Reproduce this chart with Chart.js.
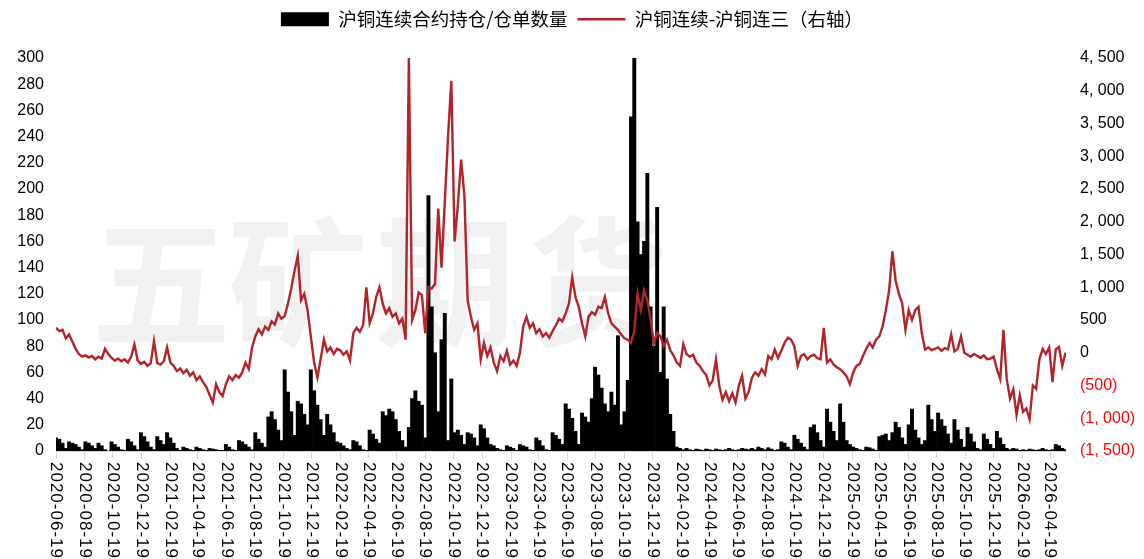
<!DOCTYPE html>
<html><head><meta charset="utf-8">
<script src="https://cdn.jsdelivr.net/npm/chart.js@4.4.1/dist/chart.umd.min.js"></script>
<style>html,body{margin:0;padding:0;background:#fff;overflow:hidden}#wrap{width:1144px;height:559px;position:relative}</style>
</head><body><div id="wrap"><canvas id="c"></canvas></div>
<script>
const startDate = '2020-06-19';
const stepDays = 7;
const xMaxDays = 2164;
const barLabel = '沪铜连续合约持仓/仓单数量';
const lineLabel = '沪铜连续-沪铜连三（右轴）';
const watermark = '五矿期货';
const tickLabels = ['2020-06-19','2020-08-19','2020-10-19','2020-12-19','2021-02-19','2021-04-19','2021-06-19','2021-08-19','2021-10-19','2021-12-19','2022-02-19','2022-04-19','2022-06-19','2022-08-19','2022-10-19','2022-12-19','2023-02-19','2023-04-19','2023-06-19','2023-08-19','2023-10-19','2023-12-19','2024-02-19','2024-04-19','2024-06-19','2024-08-19','2024-10-19','2024-12-19','2025-02-19','2025-04-19','2025-06-19','2025-08-19','2025-10-19','2025-12-19','2026-02-19','2026-04-19'];

// weekly: open interest / warehouse receipts (left axis)
const receiptRatio = [
10,9,6,2,7,6,5,3,1,7,
6,4,2,6,4,1,0,7,5,3,
1,0.5,9,7,4,1,14,11,7,3,
1,11,8,5,14,10,6,2,0.5,3,
2,1,0.5,3,2,1,0.5,2,1.5,1,
0.5,0.5,5,3,1,0.5,8,7,5,3,
1,14,9,6,3,26,30,24,16,8,
62,45,30,12,38,36,28,20,62,46,
35,24,12,28,20,14,7,6,4,2,
1,8,7,4,1,0.5,16,13,9,6,
30,27,32,30,24,15,8,3,18,40,
46,38,35,10,195,110,75,30,85,105,
8,55,14,16,12,5,14,13,10,4,
20,17,10,5,4,2,1,0.5,4,3,
2,0.5,5,4,3,1,0.5,10,8,4,
1,0.5,14,12,9,5,36,32,25,15,
5,29,26,22,40,64,58,48,36,30,
45,35,88,20,30,54,255,300,175,150,
160,212,110,80,186,60,110,55,28,15,
3,2,1,2,1,0.5,1.5,1,0.5,1.5,
1,0.5,1.5,1,0.5,1,2,1,0.5,1,
2,1.5,1,2,1,3,2,1,2.5,1.5,
0.5,1,7,6,3,1,12,9,6,3,
1,18,20,14,8,3,32,22,15,8,
36,22,8,5,3,2,1,0.5,3,2.5,
1.5,0.5,11,12,13,8,14,22,18,10,
5,20,32,16,10,5,8,35,24,15,
29,24,19,13,6,24,16,9,3,18,
13,7,2,1,13,9,5,2,15,10,
5,2,1,2,1.5,0.5,1,0.5,1.5,1,
0.5,1,2,1,0.5,1,5,4,2,1
];

// weekly: continuous minus third-month spread (right axis)
const spread = [
380,330,350,220,280,170,60,-20,-60,-40,
-70,-50,-100,-60,-90,60,-20,-80,-120,-90,
-130,-100,-150,-60,130,-120,-170,-140,-200,-160,
180,-160,-180,-130,80,-150,-200,-280,-240,-310,
-260,-350,-300,-420,-360,-450,-520,-640,-760,-480,
-600,-660,-480,-360,-420,-340,-380,-300,-150,-250,
80,250,360,280,400,350,480,430,600,520,
560,750,980,1250,1480,800,900,650,250,-150,
-380,-100,200,20,80,-20,60,40,-30,20,
-120,300,380,320,420,1000,450,600,850,1000,
750,600,680,550,600,450,520,200,4500,500,
650,920,880,300,1000,980,1050,2200,1300,2300,
3300,4150,1700,2250,2950,2400,800,550,350,450,
-100,150,-50,80,-150,-280,-50,-130,30,-180,
-120,-200,0,400,550,380,450,300,360,250,
300,230,330,420,520,480,600,750,1150,850,
700,450,250,550,620,580,700,680,850,600,
450,400,350,280,220,200,150,330,900,650,
950,800,500,150,300,250,100,200,40,-40,
-150,-200,130,-20,-60,-30,-150,-200,-280,-340,
-500,-420,-100,-500,-720,-600,-740,-620,-760,-500,
-350,-700,-600,-380,-300,-350,-250,-330,-50,-100,
50,-80,30,150,230,200,100,-200,-50,-20,
-100,-50,-30,-80,-100,380,-150,-100,-180,-220,
-250,-300,-360,-480,-300,-200,-170,-50,60,150,
80,200,250,400,650,950,1550,1100,900,750,
350,650,500,650,700,300,50,80,40,60,
80,30,70,50,280,20,60,250,0,-30,
-60,-20,-50,-80,-40,-100,-90,-60,-250,-400,
350,-400,-700,-560,-950,-650,-900,-850,-1020,-500,
-550,-100,60,-20,80,-450,50,90,-200,0
];

function dayOffset(s){
  const [y,m,d] = s.split('-').map(Number);
  const [y0,m0,d0] = startDate.split('-').map(Number);
  return Math.round((Date.UTC(y,m-1,d) - Date.UTC(y0,m0-1,d0)) / 86400000);
}
const tickDays = tickLabels.map(dayOffset);
const barPts = receiptRatio.map((v,i)=>({x:i*stepDays, y:v}));
const linePts = spread.map((v,i)=>({x:i*stepDays, y:v}));

function fmtThousands(n){ return String(Math.abs(n)).replace(/\B(?=(\d{3})+(?!\d))/g, ', '); }

const tickFont = {family:'"Liberation Sans", Arial, sans-serif', size:16};

const watermarkPlugin = {
  id:'wm',
  beforeDatasetsDraw(chart){
    const ctx = chart.ctx;
    ctx.save();
    ctx.font = 'bold 140px "Noto Sans CJK SC", sans-serif';
    ctx.fillStyle = '#f1f1f1';
    ctx.textAlign = 'center'; ctx.textBaseline = 'middle';
    const cx = [161, 298, 445, 598];
    [...watermark].forEach((ch,i)=>ctx.fillText(ch, cx[i], 282));
    ctx.restore();
  }
};
const xLabelPlugin = {
  id:'xLabels',
  afterDraw(chart){
    const sc = chart.scales.x, ctx = chart.ctx;
    ctx.save();
    ctx.font = '17px "Liberation Sans", Arial, sans-serif';
    try { ctx.letterSpacing = '1px'; } catch(e) {}
    ctx.fillStyle = '#000';
    ctx.textAlign = 'left'; ctx.textBaseline = 'middle';
    tickDays.forEach((d,i)=>{
      const x = sc.getPixelForValue(d);
      ctx.save(); ctx.translate(x, chart.chartArea.bottom + 11); ctx.rotate(Math.PI/2);
      ctx.fillText(tickLabels[i], 0, 0); ctx.restore();
    });
    ctx.restore();
  }
};
const legendFitPlugin = {
  id:'legendFit',
  afterInit(chart){
    const lg = chart.legend; const orig = lg.fit.bind(lg);
    lg.fit = function(){ orig(); this.height = 58; };
  }
};

new Chart(document.getElementById('c'), {
  type:'bar',
  data:{
    datasets:[
      {type:'bar', label:barLabel, data:barPts, yAxisID:'y', backgroundColor:'#000', borderWidth:0,
       barPercentage:1, categoryPercentage:1, order:1, pointStyle:'rect'},
      {type:'line', label:lineLabel, data:linePts, yAxisID:'y1', borderColor:'#B0242A', backgroundColor:'#B0242A',
       borderWidth:2.4, pointRadius:0, tension:0, order:0, pointStyle:'line'}
    ]
  },
  options:{
    responsive:true, maintainAspectRatio:false, animation:false, devicePixelRatio:1,
    layout:{padding:0},
    plugins:{
      tooltip:{enabled:false},
      legend:{position:'top', labels:{usePointStyle:true, pointStyleWidth:48, boxHeight:14, padding:10,
        color:'#000', font:{family:'"Noto Sans CJK SC", sans-serif', size:18.5},
        sort:(a,b)=>a.datasetIndex-b.datasetIndex}}
    },
    scales:{
      x:{type:'linear', min:0, max:xMaxDays, offset:false,
        grid:{offset:false, drawOnChartArea:false, drawTicks:true, tickLength:8, color:'#d9d9d9'},
        border:{display:true, color:'#d9d9d9'},
        ticks:{display:false},
        afterBuildTicks:(s)=>{ s.ticks = tickDays.map(v=>({value:v})); },
        afterFit:(s)=>{ s.height = 108; }
      },
      y:{position:'left', min:0, max:300,
        ticks:{stepSize:20, padding:12, color:'#000', font:tickFont},
        grid:{display:false, drawTicks:false}, border:{display:false},
        afterFit:(s)=>{ s.width = 56; }
      },
      y1:{position:'right', min:-1500, max:4500,
        ticks:{stepSize:500, padding:14, font:tickFont,
          color:(c)=> c.tick && c.tick.value < 0 ? '#FF0000' : '#000',
          callback:(v)=> v < 0 ? '(' + fmtThousands(v) + ')' : fmtThousands(v)},
        grid:{display:false, drawTicks:false}, border:{display:false},
        afterFit:(s)=>{ s.width = 78; }
      }
    }
  },
  plugins:[watermarkPlugin, xLabelPlugin, legendFitPlugin]
});
</script></body></html>
